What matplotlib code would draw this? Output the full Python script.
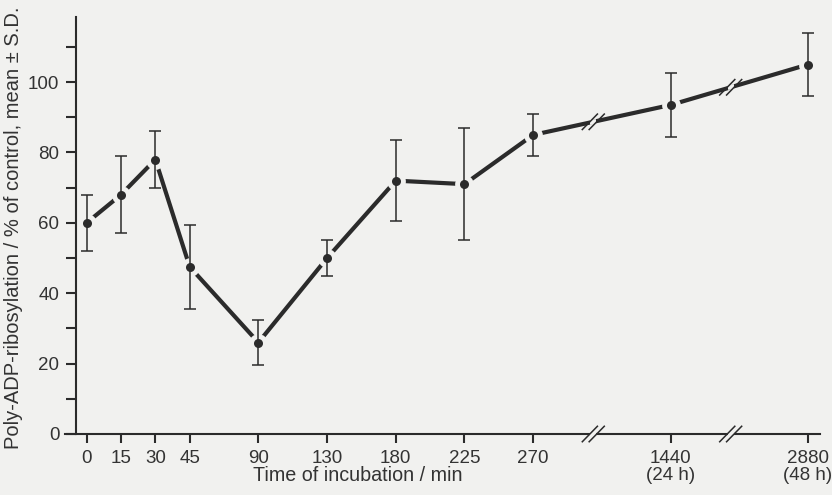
import matplotlib
matplotlib.use("Agg")
import matplotlib.pyplot as plt
import numpy as np

plt.rcParams['font.family'] = ['Liberation Sans', 'DejaVu Sans']

# ---- data ----
time_labels = ['0', '15', '30', '45', '90', '130', '180', '225', '270',
               '1440\n(24 h)', '2880\n(48 h)']
slots = [0, 1, 2, 3, 5, 7, 9, 11, 13, 17, 21]      # categorical axis slots
mean_vals = [60, 68, 78, 47.5, 26, 50, 72, 71, 85, 93.5, 105]
sd_vals = [8, 11, 8, 12, 6.5, 5, 11.5, 16, 6, 9, 9]
break_slots = [14.75, 18.75]

BG = '#f1f1ef'
INK = '#2b2b2b'

fig = plt.figure(figsize=(8.32, 4.95), dpi=100, facecolor=BG)
ax = fig.add_axes([65/832, (495-434)/495, 755/832, (434-17)/495], facecolor=BG)

ax.set_xlim(-0.63, 21.35)
ax.set_ylim(0, 118.5)

# main line
ax.plot(slots, mean_vals, color=INK, lw=3.0, solid_capstyle='butt', zorder=2)
# gaps around markers
ax.plot(slots, mean_vals, 'o', color=BG, ms=13.5, mec='none', zorder=3)
# error bars
ax.errorbar(slots, mean_vals, yerr=sd_vals, fmt='none', ecolor=INK,
            elinewidth=1.1, capsize=4, capthick=1.1, zorder=4)
# markers
ax.plot(slots, mean_vals, 'o', color=INK, ms=6.5, mec='none', zorder=5)

# break marks on data line and axis
for bx in break_slots:
    by = np.interp(bx, slots, mean_vals)
    for yy, z in [(by, 6), (0, 6)]:
        ax.plot([bx - 0.09, bx + 0.09], [yy, yy], color=BG, lw=4, zorder=z,
                solid_capstyle='butt', clip_on=False)
        for dx in (-0.1, 0.1):
            ax.plot([bx + dx - 0.22, bx + dx + 0.22], [yy - 2.2, yy + 2.2],
                    color=INK, lw=1.1, zorder=z + 1, clip_on=False)

# spines
for s in ('top', 'right'):
    ax.spines[s].set_visible(False)
ax.spines['left'].set_position(('data', -0.31))
for s in ('left', 'bottom'):
    ax.spines[s].set_linewidth(1.5)
    ax.spines[s].set_color(INK)

ax.set_xticks(slots)
ax.set_xticklabels(time_labels, fontsize=13.5, color='#333333', linespacing=1.0)
ax.set_yticks(np.arange(0, 101, 20))
ax.set_yticks(np.arange(10, 111, 20), minor=True)
ax.tick_params(axis='y', which='both', direction='out', length=7, width=1.5,
               color=INK, labelsize=13.5, labelcolor='#333333', pad=5)
ax.tick_params(axis='x', direction='out', length=6.5, width=1.5, color=INK, pad=5)

ax.set_xlabel('Time of incubation / min', fontsize=14.2, color='#333333')
ax.xaxis.set_label_coords((358-65)/755, -(466-434)/417)
fig.text(14/832, 1 - 228/495, 'Poly-ADP-ribosylation / % of control, mean ± S.D.',
         rotation=90, fontsize=14.5, color='#333333', ha='center', va='center')

fig.savefig('out.png', dpi=100, facecolor=BG)
